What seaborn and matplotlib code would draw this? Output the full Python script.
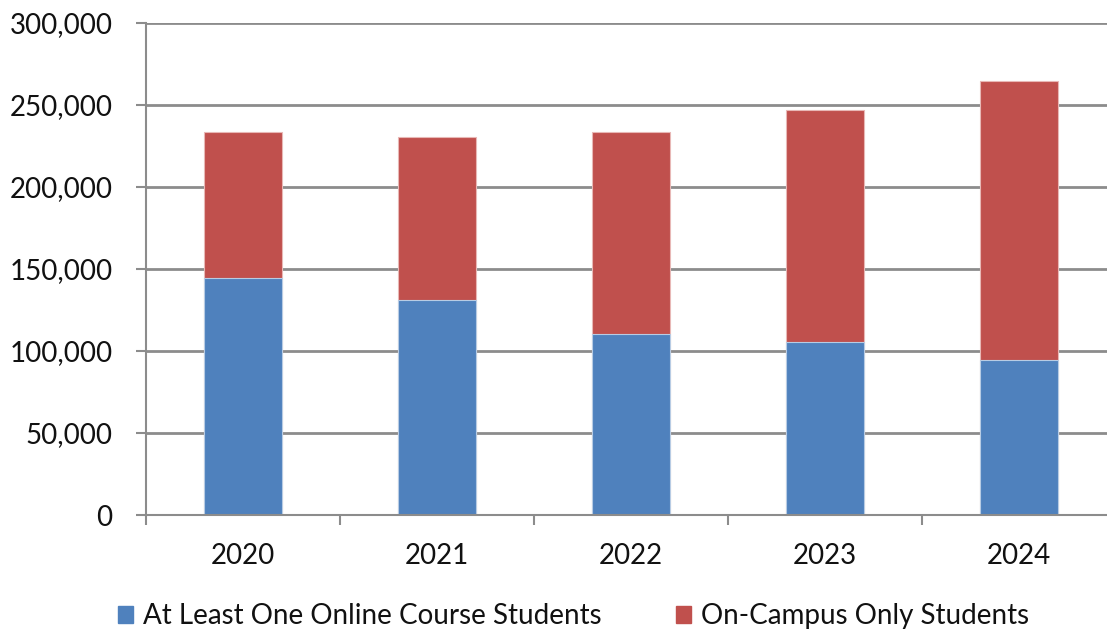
import matplotlib
matplotlib.use("Agg")
import matplotlib.pyplot as plt
import matplotlib.ticker as mticker
import seaborn as sns
import pandas as pd
import numpy as np

years = ["2020", "2021", "2022", "2023", "2024"]
online = [144700, 130900, 110400, 105700, 94300]
on_campus = [88800, 99400, 123100, 141100, 170500]
series_names = ["At Least One Online Course Students", "On-Campus Only Students"]
yticks = [0, 50000, 100000, 150000, 200000, 250000, 300000]

BLUE = "#4F81BD"
RED = "#C0504D"
GRID = "#8C8C8C"

sns.set_theme(style="white")
plt.rcParams["font.family"] = ["Lato", "DejaVu Sans"]

df = pd.DataFrame({"year": years, "online": online, "campus": on_campus})
df["total"] = df["online"] + df["campus"]

W, H = 1107, 633
fig = plt.figure(figsize=(W / 100, H / 100), dpi=100)
ax = fig.add_axes([146 / W, 1 - 515 / H, (1107 - 146) / W, (515 - 23) / H])

sns.barplot(data=df, x="year", y="total", color=RED, width=0.4, ax=ax,
            saturation=1, edgecolor="#E8B8B6", linewidth=0.8, legend=False)
sns.barplot(data=df, x="year", y="online", color=BLUE, width=0.4, ax=ax,
            saturation=1, edgecolor="#B8CCE4", linewidth=0.8, legend=False)

ax.set_ylim(0, 300000)
ax.set_xlim(-0.5, 4.454)
ax.set_yticks(yticks)
ax.yaxis.set_major_formatter(mticker.FuncFormatter(lambda v, p: f"{int(v):,}"))
ax.set_axisbelow(True)
ax.yaxis.grid(True, color=GRID, linewidth=2)
ax.xaxis.grid(False)

for s in ["top", "right"]:
    ax.spines[s].set_visible(False)
for s in ["left", "bottom"]:
    ax.spines[s].set_color(GRID)
    ax.spines[s].set_linewidth(1.5)

ax.set_xlabel("")
ax.set_ylabel("")
ax.tick_params(axis="y", which="major", left=True, length=7, width=1.5, color=GRID,
               labelsize=20, pad=17, labelcolor="#111111")
ax.tick_params(axis="x", which="major", bottom=False, labelsize=20, pad=14, labelcolor="#111111")
ax.set_xticks(np.arange(len(years)))
ax.set_xticklabels(years)
ax.set_xticks(np.arange(len(years)) - 0.5, minor=True)
ax.tick_params(axis="x", which="minor", bottom=True, length=7, width=1.5, color=GRID)

handles = [plt.Rectangle((0, 0), 1, 1, color=BLUE), plt.Rectangle((0, 0), 1, 1, color=RED)]
fig.legend(handles, series_names, loc="center", bbox_to_anchor=(0.518, 1 - 616 / H),
           ncol=2, frameon=False, fontsize=20, handlelength=0.55, handleheight=0.55,
           handletextpad=0.35, columnspacing=2.7, labelcolor="#111111")

fig.savefig("out.png", dpi=100)
